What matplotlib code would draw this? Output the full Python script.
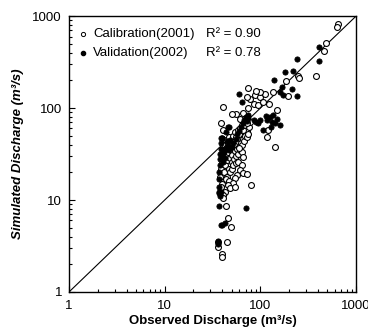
import numpy as np
import matplotlib
matplotlib.use('Agg')
import matplotlib.pyplot as plt

plt.rcParams['font.family'] = ['Liberation Sans', 'DejaVu Sans']

# Calibration (2001): observed / simulated discharge (m3/s)
cal_obs = [652, 627, 485, 466, 380, 250, 252, 184, 196, 136, 148, 142, 118, 121, 88, 100, 112, 78, 85, 95,
           107, 75, 66, 56, 50, 61, 72, 75, 41, 39, 40.6, 122, 100, 90,
           38, 39, 40, 41, 42, 43, 44, 45, 46, 47, 48, 49, 50, 51, 52, 53, 54, 55, 56, 57, 58, 59, 60, 61,
           62, 63, 64, 65, 66, 67, 68, 69, 70, 72, 73, 74, 75, 76, 78, 40, 41, 42, 43, 44, 45, 46, 47, 48,
           50, 52, 54, 56, 58, 60, 62, 64, 66, 68, 70, 72, 45, 48, 50, 52, 55, 42, 40, 39, 44, 47,
           80, 58.6, 63.8, 61, 66, 56.5, 54.3, 52, 46.2, 48, 42.7, 41, 40.4, 54, 64, 66, 60, 73,
           44, 46, 49, 44.5, 36.5, 36.5, 39.5, 40]
cal_sim = [818, 765, 505, 420, 224, 224, 215, 196, 135, 150, 95, 38, 48, 58, 138, 133, 144, 127, 112, 108,
           117, 99, 88, 86, 86, 77, 133, 166, 103, 68, 57.6, 110, 150, 155,
           18, 22, 25, 28, 20, 24, 30, 27, 33, 22, 29, 35, 26, 31, 38, 28, 34, 40, 30, 36, 44, 32, 38, 47,
           35, 42, 52, 40, 46, 55, 44, 50, 60, 48, 56, 65, 52, 62, 70, 32, 38, 35, 40, 45, 38, 42, 48, 40,
           45, 50, 55, 48, 58, 52, 60, 65, 58, 66, 72, 68, 18, 20, 22, 24, 25, 16, 15, 14, 17, 16,
           14.5, 26.1, 24, 21.2, 19.5, 18.7, 17.2, 15.2, 14.6, 13.4, 12.3, 11.3, 10.4, 14, 33.5, 29.6, 36.5, 19.3,
           8.6, 6.4, 5.1, 3.5, 3.5, 3.1, 2.6, 2.4]

# Validation (2002)
val_obs = [412, 412, 240, 218, 181, 138, 167, 213, 240, 174, 160, 60, 64, 114, 126, 136, 148, 131, 142, 160,
           107, 128, 118, 100, 90, 95, 85, 47, 39.4, 37, 71, 39, 40, 43, 36.5, 36.5, 37,
           37, 37, 37, 38, 38, 38, 39, 39, 40, 40, 41, 42, 43, 44, 45, 46, 47, 48, 50, 52, 55, 57, 60, 63,
           66, 68, 70, 72, 74, 75, 46, 44, 39, 37, 38, 39]
val_sim = [457, 323, 338, 252, 248, 200, 170, 161, 135, 138, 150, 142, 115, 82, 79, 84, 77, 71, 68, 65,
           58, 62, 74, 75, 70, 68, 75, 63, 46.9, 8.6, 8.2, 5.4, 5.3, 5.6, 3.6, 3.3, 12.2,
           14, 17, 20, 24, 28, 32, 36, 42, 47, 30, 26, 33, 29, 37, 44, 40, 35, 45, 38, 42, 46, 52, 56, 62,
           68, 75, 80, 72, 85, 78, 63, 55, 47, 12, 11, 12.3]

AX_RANGE = [1, 1000]
TICKS = [1, 10, 100, 1000]

fig = plt.figure(figsize=(3.68, 3.36), dpi=100)
ax = fig.add_axes([0.1875, 0.131, 0.78, 0.821])

# 1:1 line
ax.plot(AX_RANGE, AX_RANGE, color='black', lw=0.8, zorder=1)
ax.scatter(cal_obs, cal_sim, s=18, facecolors='white', edgecolors='black', linewidths=0.8, zorder=2)
ax.scatter(val_obs, val_sim, s=14, color='black', edgecolors='black', linewidths=0.6, zorder=3)

ax.set_xscale('log')
ax.set_yscale('log')
ax.set_xlim(AX_RANGE)
ax.set_ylim(AX_RANGE)
ax.set_xticks(TICKS)
ax.set_xticklabels([str(t) for t in TICKS])
ax.set_yticks(TICKS)
ax.set_yticklabels([str(t) for t in TICKS])
ax.tick_params(which='both', direction='in', labelsize=9.5, width=0.8)
ax.tick_params(which='major', length=4)
ax.tick_params(which='minor', length=2.5)
ax.tick_params(axis='x', pad=6)
ax.tick_params(axis='y', pad=5)
for s in ax.spines.values():
    s.set_linewidth(1.0)

ax.set_xlabel('Observed Discharge (m³/s)', fontsize=9.5, fontweight='bold', labelpad=2)
ax.set_ylabel('Simulated Discharge (m³/s)', fontsize=9.5, fontweight='bold', fontstyle='italic', labelpad=6)

# legend drawn by hand
ax.plot(0.05, 0.935, 'o', ms=3.0, mfc='white', mec='black', mew=0.7, transform=ax.transAxes)
ax.plot(0.05, 0.866, 'o', ms=3.0, color='black', transform=ax.transAxes)
ax.text(0.085, 0.935, 'Calibration(2001)', fontsize=9.5, va='center', transform=ax.transAxes)
ax.text(0.085, 0.866, 'Validation(2002)', fontsize=9.5, va='center', transform=ax.transAxes)
ax.text(0.478, 0.935, 'R² = 0.90', fontsize=9.5, va='center', transform=ax.transAxes)
ax.text(0.478, 0.866, 'R² = 0.78', fontsize=9.5, va='center', transform=ax.transAxes)

fig.savefig('out.png', dpi=100)
